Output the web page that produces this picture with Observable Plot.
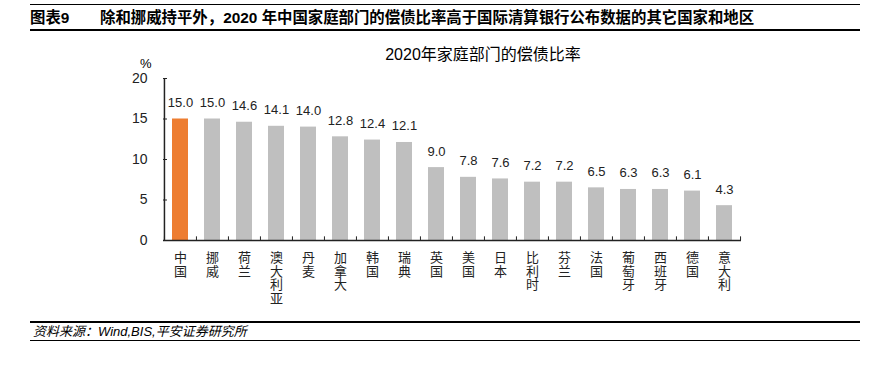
<!DOCTYPE html>
<html>
<head>
<meta charset="utf-8">
<script src="https://cdn.jsdelivr.net/npm/d3@7"></script>
<script src="https://cdn.jsdelivr.net/npm/@observablehq/plot@0.6"></script>
<style>
  html, body { margin: 0; padding: 0; background: #fff; }
  #wrap { position: relative; width: 874px; height: 368px; overflow: hidden;
    font-family: "Liberation Sans", "Noto Sans CJK SC", sans-serif; color: #000; }
  .abs { position: absolute; white-space: nowrap; z-index: 2; line-height: 1.15; }
  .hline { position: absolute; left: 30px; width: 830px; background: #000; z-index: 2; }
  #chart { position: absolute; left: 0; top: 0; z-index: 1; }
</style>
</head>
<body>
<div id="wrap">
  <div class="hline" style="top:4px;height:1px;"></div>
  <div class="abs" style="left:30px;top:9px;font-size:15.4px;font-weight:bold;">图表9</div>
  <div class="abs" style="left:100px;top:9px;font-size:15.4px;font-weight:bold;">除和挪威持平外，2020 年中国家庭部门的偿债比率高于国际清算银行公布数据的其它国家和地区</div>
  <div class="hline" style="top:29px;height:2px;"></div>
  <div class="abs" style="left:0;width:966px;top:46px;font-size:16px;text-align:center;">2020年家庭部门的偿债比率</div>
  <div class="abs" style="left:140px;top:57px;font-size:13px;line-height:1;">%</div>
  <div id="chart"></div>
  <div class="hline" style="top:321px;height:1.5px;"></div>
  <div class="abs" style="left:33px;top:325px;font-size:13px;font-style:italic;">资料来源：Wind,BIS,平安证券研究所</div>
  <div class="hline" style="top:340px;height:1px;"></div>
</div>
<script>
const categories = ["中国","挪威","荷兰","澳大利亚","丹麦","加拿大","韩国","瑞典","英国","美国","日本","比利时","芬兰","法国","葡萄牙","西班牙","德国","意大利"];
const values = [15.0, 15.0, 14.6, 14.1, 14.0, 12.8, 12.4, 12.1, 9.0, 7.8, 7.6, 7.2, 7.2, 6.5, 6.3, 6.3, 6.1, 4.3];
const yTicks = [0, 5, 10, 15, 20];
const highlight = "中国";

const data = categories.map((name, i) => ({name, value: values[i]}));

const W = 874, H = 320;
const mL = 163, mR = 133, mT = 78, mB = H - 240;
const step = (W - mL - mR) / categories.length;
const axisColor = "#222";

const chart = Plot.plot({
  width: W,
  height: H,
  marginLeft: mL,
  marginRight: mR,
  marginTop: mT,
  marginBottom: mB,
  style: {background: "transparent", fontFamily: "'Liberation Sans', 'Noto Sans CJK SC', sans-serif", overflow: "visible"},
  x: {type: "band", domain: categories, paddingInner: 0.5, paddingOuter: 0.25, axis: null},
  y: {domain: [0, 20], axis: null},
  marks: [
    Plot.barY(data, {x: "name", y: "value", fill: d => d.name === highlight ? "#ED7D31" : "#BFBFBF"}),
    Plot.text(data, {x: "name", y: "value", text: d => d.value.toFixed(1), dy: -12, lineAnchor: "bottom", fontSize: 13, fill: "#222"}),
    Plot.ruleY([0], {stroke: axisColor, strokeWidth: 1.5}),
    Plot.ruleX([categories[0]], {y1: 0, y2: 20, dx: -step / 2, stroke: axisColor, strokeWidth: 1.5}),
    Plot.ruleY(yTicks, {y: d => d, insetRight: (W - mL - mR) - 4, stroke: axisColor, strokeWidth: 1}),
    Plot.ruleX(categories, {x: d => d, y1: 0, y2: 0.45, dx: -step / 2, stroke: axisColor, strokeWidth: 1}),
    Plot.ruleX([categories[categories.length - 1]], {y1: 0, y2: 0.45, dx: step / 2, stroke: axisColor, strokeWidth: 1}),
    Plot.axisY({ticks: yTicks, tickSize: 0, tickPadding: 16, fontSize: 14, label: null, fill: "#222"}),
    Plot.text(categories, {x: d => d, frameAnchor: "bottom", text: d => d.split("").join("\n"), lineAnchor: "top", dy: 12, lineHeight: 1.05, fontSize: 13, fill: "#222"})
  ]
});
document.getElementById("chart").appendChild(chart);
</script>
</body>
</html>
